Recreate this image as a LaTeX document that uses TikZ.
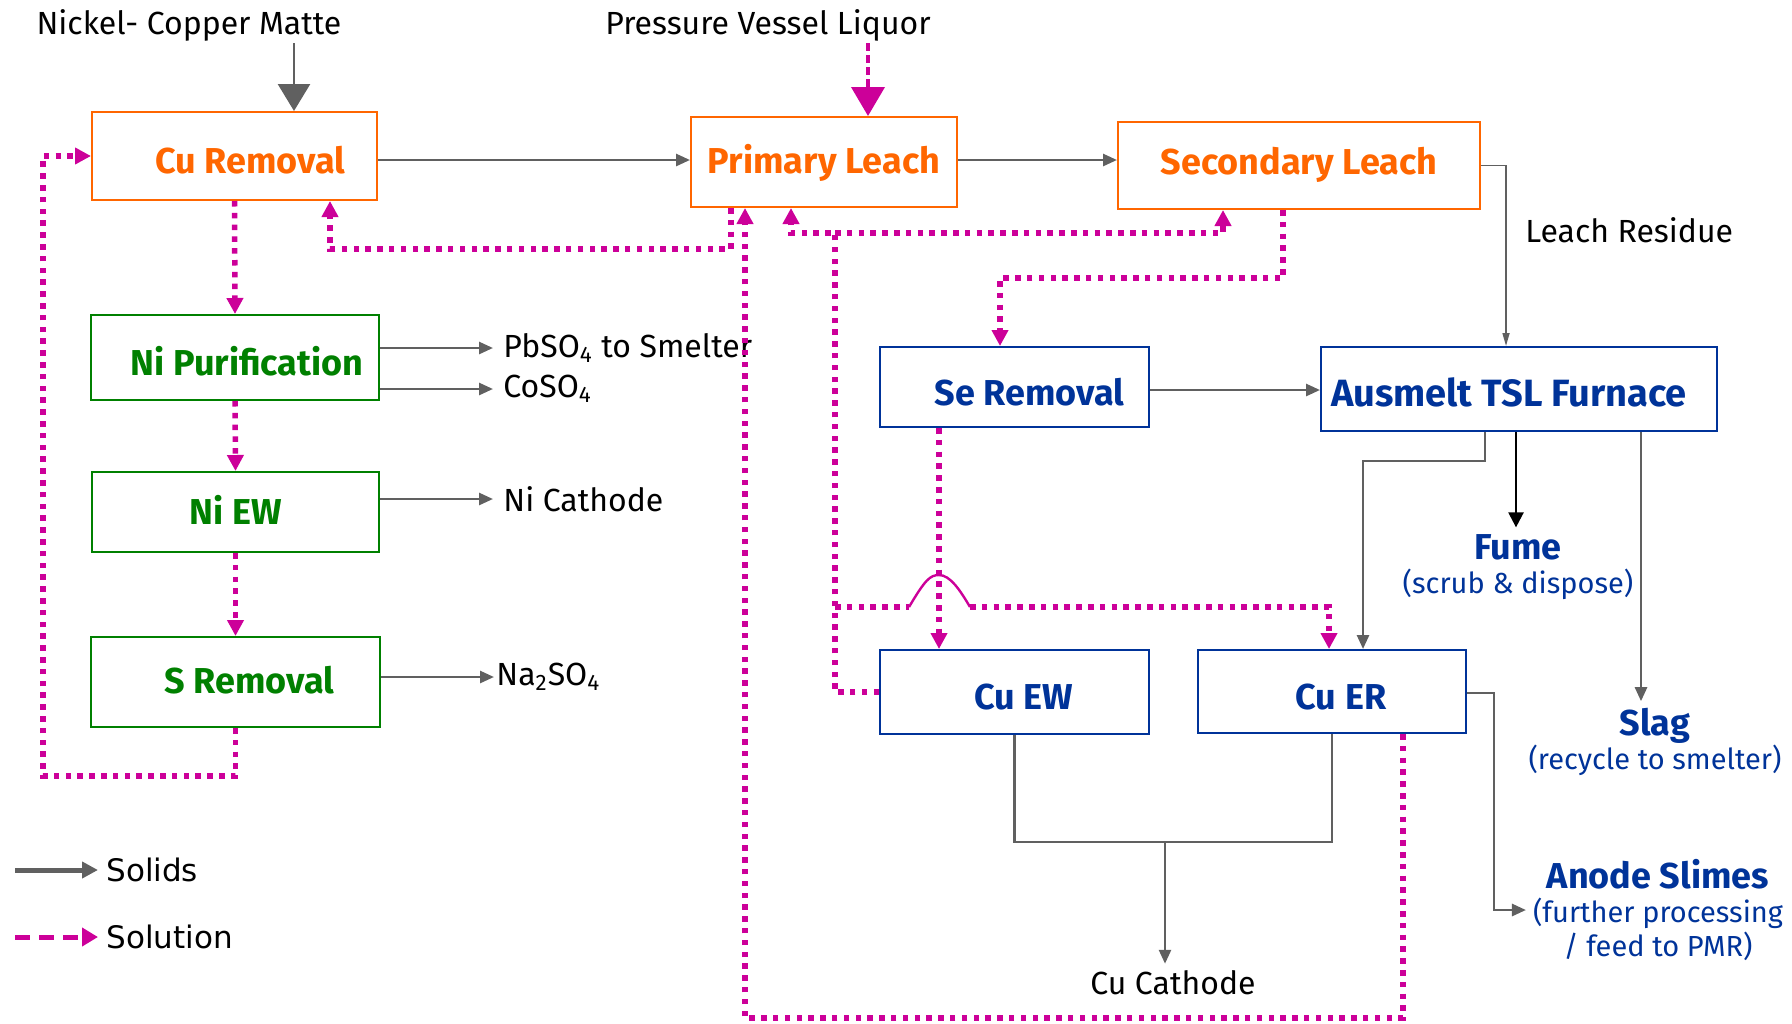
\documentclass[tikz,border=0pt]{standalone}
\usepackage{tikz}
\usetikzlibrary{arrows.meta}
\usepackage{xcolor}
\usepackage{fontspec}
\setmainfont{Fira Sans}
\newfontfamily\legfont{DejaVu Sans}
\definecolor{orng}{RGB}{255,102,0}
\definecolor{grn}{RGB}{0,128,0}
\definecolor{blu}{RGB}{0,51,153}
\definecolor{mag}{RGB}{204,0,153}
\definecolor{gry}{RGB}{96,96,96}

\begin{document}
\begin{tikzpicture}[x=0.5pt,y=-0.5pt,
		box/.style={rectangle,draw,line width=1pt,inner sep=0pt,text depth=0pt,font=\fontsize{18}{20}\selectfont\bfseries},
		lbl/.style={font=\fontsize{16}{19}\selectfont},
		res/.style={text=blu,align=center,font=\fontsize{14.5}{17}\selectfont},
		sol/.style={gry,line width=1.35pt,-{Triangle[length=7pt,width=6pt]}},
		liq/.style={mag,line width=2.75pt,dash pattern=on 2.75pt off 3.15pt,-{Triangle[length=8pt,width=8pt]}}]
				\useasboundingbox (0,0) rectangle (1792,1023);
				\node(1) at (234.5,156)[box,draw=orng,text=orng,minimum width=142.5pt,minimum height=44pt,text height=17pt]{\hspace*{16pt}Cu Removal};
				\node(2) at (824,162)[box,draw=orng,text=orng,minimum width=133pt,minimum height=45pt,text height=11pt]{Primary Leach};
				\node(3) at (1299,165.5)[box,draw=orng,text=orng,minimum width=181pt,minimum height=43.5pt,text height=8.5pt]{Secondary Leach};
				\node(4) at (235,357.5)[box,draw=grn,text=grn,minimum width=143.75pt,minimum height=42.5pt,text height=17.5pt]{\hspace*{12pt}Ni Purification};
				\node(5) at (235.5,512)[box,draw=grn,text=grn,minimum width=143.5pt,minimum height=40pt,text height=12pt]{Ni EW};
				\node(6) at (235.5,682)[box,draw=grn,text=grn,minimum width=144.5pt,minimum height=45pt,text height=11pt]{\hspace*{14pt}S Removal};
				\node(7) at (1014.5,387)[box,draw=blu,text=blu,minimum width=134.5pt,minimum height=40pt,text height=18pt]{\hspace*{15pt}Se Removal};
				\node(8) at (1519,389)[box,draw=blu,text=blu,minimum width=198pt,minimum height=42pt,text height=17pt,font=\fontsize{19}{21}\selectfont\bfseries]{Ausmelt TSL Furnace\hspace*{10pt}};
				\node(9) at (1014.5,692)[box,draw=blu,text=blu,minimum width=134.5pt,minimum height=42pt,text height=17pt]{\hspace*{9pt}Cu EW};
				\node(10) at (1332,691.5)[box,draw=blu,text=blu,minimum width=134pt,minimum height=41.5pt,text height=17.5pt]{\hspace*{9pt}Cu ER};
				
				\node(11) at (189,25)[lbl,inner sep=1pt]{Nickel- Copper Matte};
				\node(12) at (768,25)[lbl,inner sep=1pt]{Pressure Vessel Liquor};
				\node(13) at (493,348)[lbl,anchor=west,inner sep=5pt]{PbSO\textsubscript{4} to Smelter};
				\node(14) at (493,389)[lbl,anchor=west,inner sep=5pt]{CoSO\textsubscript{4}};
				\node(15) at (493,499)[lbl,anchor=west,inner sep=5pt]{Ni Cathode};
				\node(16) at (494,677)[lbl,anchor=west,inner sep=1pt]{Na\textsubscript{2}SO\textsubscript{4}};
				\node(17) at (1525,230)[lbl,anchor=west,inner sep=0pt]{Leach Residue};
				\node(18) at (1518,567)[res]{{\fontsize{18}{20}\selectfont\bfseries Fume}\\(scrub \& dispose)};
				\node(19) at (1655,742)[res]{{\fontsize{18}{20}\selectfont\bfseries Slag}\\(recycle to smelter)};
				\node(20) at (1658,910)[res]{{\fontsize{18}{20}\selectfont\bfseries Anode Slimes}\\(further processing\\/ feed to PMR)};
				\node(21) at (1173,983)[lbl]{Cu Cathode};
				\node(22) at (98,870)[anchor=west,inner sep=4pt,font=\legfont\fontsize{15.5}{18}\selectfont]{Solids};
				\node(23) at (98,937)[anchor=west,inner sep=4pt,font=\legfont\fontsize{15.5}{18}\selectfont]{Solution};
				
				\draw[sol,-{Triangle[length=13.5pt,width=16pt]}] (11.south -| 294,0) -- (1.north -| 294,0);
				\draw[liq,line width=2pt,dash pattern=on 4pt off 2pt,-{Triangle[length=14.5pt,width=16.5pt]}] (12.south -| 868,0) -- (2.north -| 868,0);
				\draw[sol] (1.east |- 0,160) -- (2.west |- 0,160);
				\draw[sol] (2.east |- 0,160) -- (3.west |- 0,160);
				\draw[sol] (4.east |- 13) -- (13.west);
				\draw[sol] (4.east |- 14) -- (14.west);
				\draw[sol] (5.east |- 15) -- (15.west);
				\draw[sol] (6.east |- 16) -- (16.west);
				\draw[sol] (7.east |- 0,390) -- (8.west |- 0,390);
				\draw[sol,line width=0.8pt,-{Triangle[length=6.5pt,width=3.5pt]}] (3.east) -| (8.north -| 1506,0);
				\draw[sol] (8.south -| 1485,0) -- ++(0,29) -| (10.north -| 1363,0);
				\draw[black,line width=1.2pt,-{Triangle[length=7.5pt,width=7.5pt]}] (8.south -| 1516,0) -- (18.north -| 1516,0);
				\draw[sol] (8.south -| 1641,0) -- (19.north -| 1641,0);
				\draw[sol] (10.east |- 0,693) -- ++(27,0) |- (20.west);
				\draw[sol,-] (9.south) |- (10.south |- 0,842) -- (10.south);
				\coordinate(j) at (1165,842);
				\draw[sol] (j) -- (21.north -| j);
				
				\draw[liq] (1.south) -- (4.north);
				\draw[liq] (4.south) -- (5.north);
				\draw[liq] (5.south) -- (6.north);
				\draw[liq] (6.south) -- ++(0,48) -| ([xshift=-24pt]1.west) -- (1.west);
				\draw[liq] (2.south -| 731,0) -- ++(0,41) -| (1.south -| 330,0);
				\draw[liq] (10.south -| 1403,0) -- ++(0,284) -| (2.south -| 745,0);
				\coordinate(k1) at (835,233);
				\coordinate(k2) at (835,607);
				\coordinate(h1) at (909,607);
				\coordinate(h2) at (970,607);
				\draw[liq] (9.west) -| (k1) -| (2.south -| 791,0);
				\draw[liq] (k1) -| (3.south -| 1223,0);
				\draw[liq,-] (k2) -- (h1);
				\draw[mag,line width=1.2pt] (h1) .. controls (925,580) and (930,575) .. (939,575) .. controls (950,575) and (960,590) .. (h2);
				\draw[liq] (h2) -| (10.north -| 1329,0);
				\draw[liq] (3.south -| 1283,0) -- ++(0,68) -| (7.north -| 1000,0);
				\draw[liq] (7.south -| 939,0) -- (9.north -| 939,0);
				
				\coordinate(l1) at (15,870);
				\coordinate(l2) at (15,937);
				\draw[sol,line width=2.5pt,-{Triangle[length=8pt,width=8pt]}] (l1) -- (22.west);
				\draw[liq,line width=2.5pt,dash pattern=on 7.5pt off 4.5pt,-{Triangle[length=8pt,width=9pt]}] (l2) -- (23.west);
			\end{tikzpicture}
\end{document}
